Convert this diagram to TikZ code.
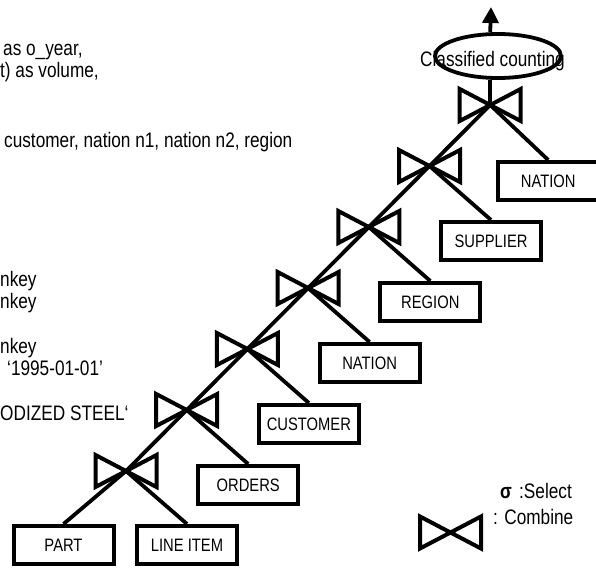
\documentclass[tikz,border=0pt]{standalone}
\usepackage{fontspec}
\setmainfont[FakeStretch=0.82]{Liberation Sans}
\usepackage{tikz}
\usetikzlibrary{shapes.geometric}
\usetikzlibrary{positioning, arrows.meta}

\newcommand{\sqlfont}{\fontsize{21}{22}\selectfont}
\newcommand{\tblfont}{\fontsize{18}{20}\selectfont}

\tikzset{
  tbl/.style={draw, line width=4pt, minimum width=100pt, minimum height=38pt, inner sep=0pt, font=\tblfont},
  bowtie/.style={minimum width=76pt, minimum height=48pt, inner sep=0pt,
    path picture={\draw[line width=4pt]
      ([shift={(-30.5pt,16pt)}]path picture bounding box.center) -- ([shift={(30.5pt,-16pt)}]path picture bounding box.center)
      -- ([shift={(30.5pt,16pt)}]path picture bounding box.center) -- ([shift={(-30.5pt,-16pt)}]path picture bounding box.center) -- cycle;}},
  link/.style={line width=3.8pt},
  sql/.style={anchor=base west, inner sep=0pt, font=\sqlfont},
}

\begin{document}
\begin{tikzpicture}[x=1pt, y=-1pt, node distance=61pt, on grid]
    \useasboundingbox (0,0) rectangle (596,567);

    % query text, cut off at the left edge
    \node[sql] (q1) at (3,56) {as o\_year,};
    \node[sql] (q2) at (0,78) {t) as volume,};
    \node[sql] (q3) at (4,147) {customer, nation n1, nation n2, region};
    \node[sql] (q4) at (0,286) {nkey};
    \node[sql] (q5) at (0,308) {nkey};
    \node[sql] (q6) at (0,353) {nkey};
    \node[sql] (q7) at (7,375) {‘1995-01-01’};
    \node[sql] (q8) at (0,420) {ODIZED STEEL‘};

    % joins
    \node[bowtie] (j0) at (126,471) {};
    \node[bowtie] (j1) [above right=61pt and 60.7pt of j0] {};
    \node[bowtie] (j2) [above right=61pt and 60.7pt of j1] {};
    \node[bowtie] (j3) [above right=61pt and 60.7pt of j2] {};
    \node[bowtie] (j4) [above right=61pt and 60.7pt of j3] {};
    \node[bowtie] (j5) [above right=61pt and 60.7pt of j4] {};
    \node[bowtie] (j6) [above right=61pt and 60.7pt of j5] {};

    % tables
    \node[tbl] (part) [below left=74pt and 62.5pt of j0] {PART};
    \node[tbl] (lineitem) [below right=74pt and 61pt of j0] {LINE ITEM};
    \node[tbl] (orders) [below right=75pt and 61.5pt of j1] {ORDERS};
    \node[tbl] (customer) [below right=75pt and 61.5pt of j2] {CUSTOMER};
    \node[tbl] (nation) [below right=75pt and 61.5pt of j3] {NATION};
    \node[tbl] (region) [below right=75pt and 61.5pt of j4] {REGION};
    \node[tbl] (supplier) [below right=75pt and 61.5pt of j5] {SUPPLIER};
    \node[tbl] (nationb) [below right=76pt and 58pt of j6] {NATION};

    % counting on top
    \node[draw, ellipse, line width=3.8pt, minimum width=126pt, minimum height=44pt, inner sep=0pt] (count) at (498,56) {};
    \node[font=\sqlfont, anchor=base, inner sep=0pt] (countlbl) at (492.5,67) {Classified counting};
    \coordinate (top) at (491,7);

    \draw[link] (part.north) -- (j0.center) -- (lineitem.north);
    \draw[link] (j0.center) -- (j1.center) -- (orders.north);
    \draw[link] (j1.center) -- (j2.center) -- (customer.north);
    \draw[link] (j2.center) -- (j3.center) -- (nation.north);
    \draw[link] (j3.center) -- (j4.center) -- (region.north);
    \draw[link] (j4.center) -- (j5.center) -- (supplier.north);
    \draw[link] (j5.center) -- (j6.center) -- (nationb.north);
    \draw[link] (j6.center) -- (j6.center |- count.south);
    \draw[link, -{Triangle[length=16pt, width=16pt]}] (j6.center |- count.north) -- (top);

    % legend
    \node[bowtie] (legjoin) at (450.5,532.5) {};
    \node[sql, font=\sqlfont\bfseries] (sigma) at (500,498) {σ};
    \node[sql] (selectlbl) at (519,498) {:Select};
    \node[sql] (combinelbl) at (493,524) {: Combine};
\end{tikzpicture}
\end{document}
